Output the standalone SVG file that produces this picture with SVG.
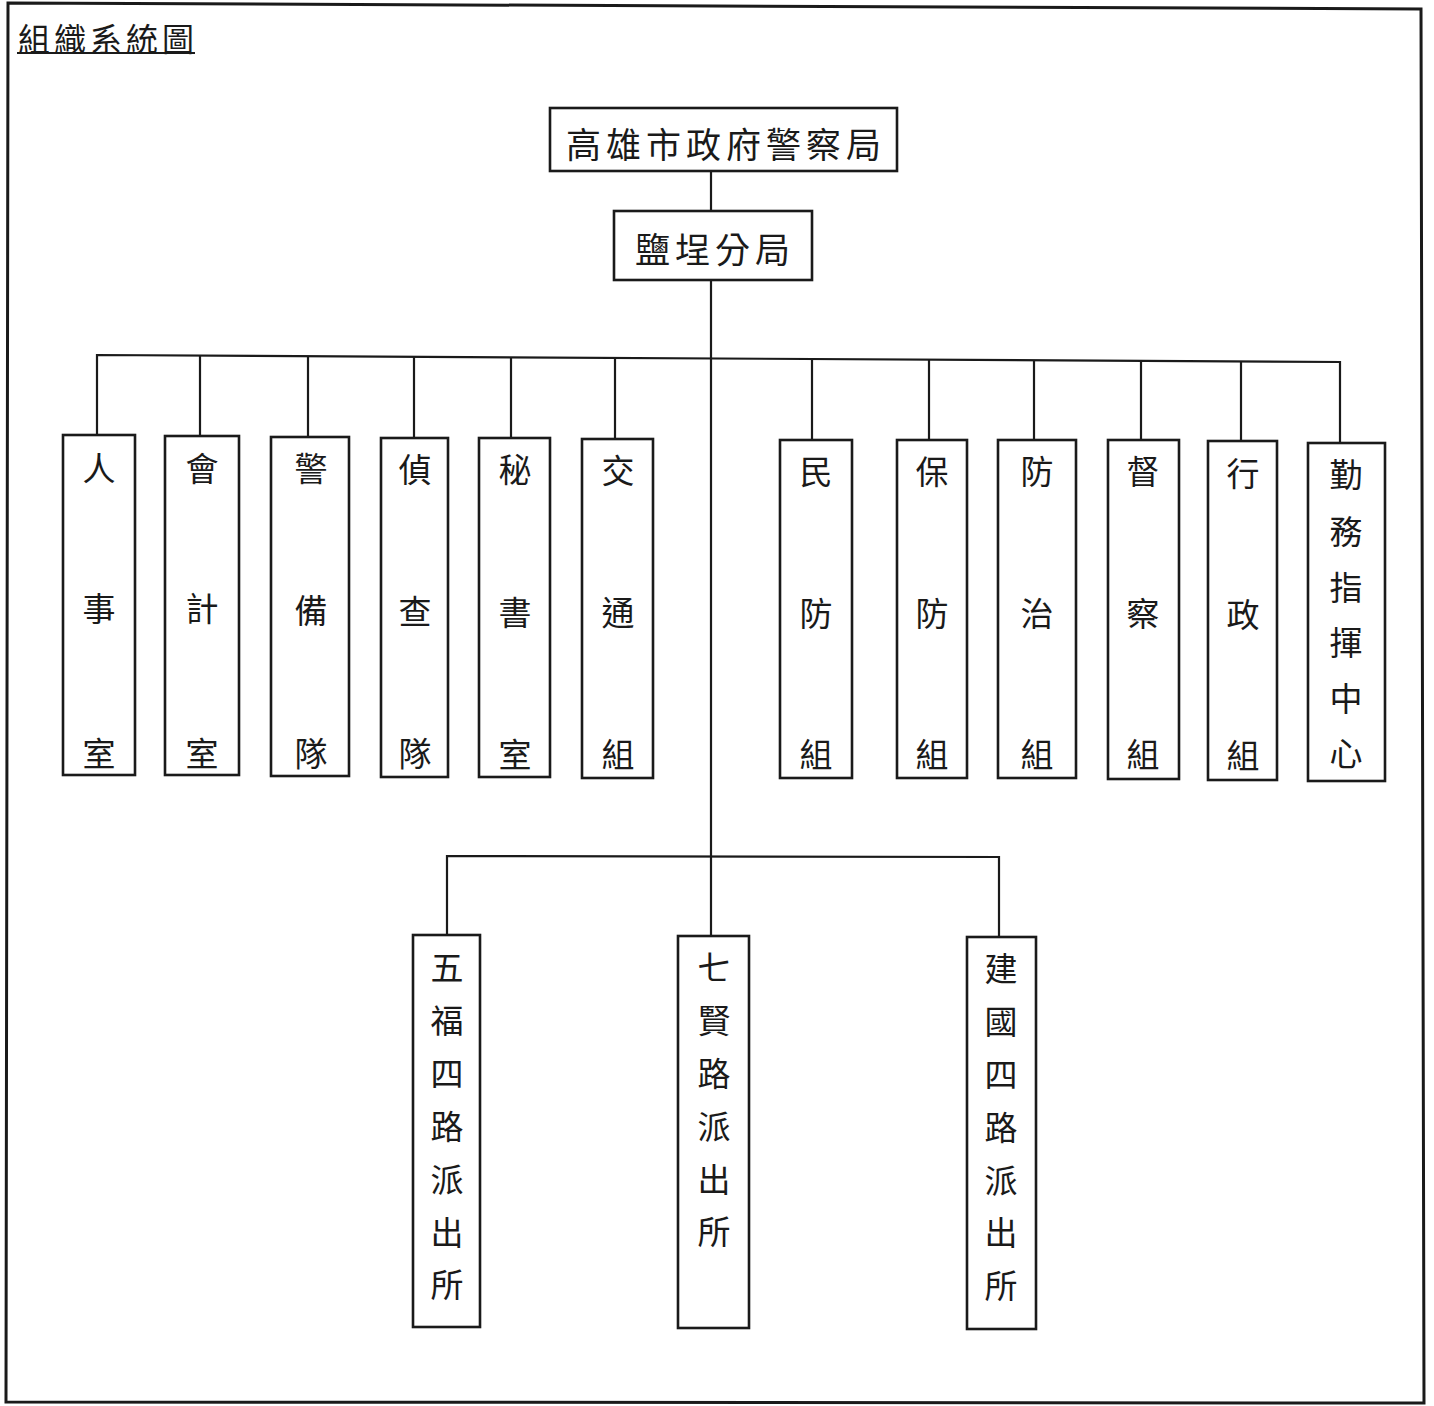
<svg xmlns="http://www.w3.org/2000/svg" width="1434" height="1406" viewBox="0 0 1434 1406">
<style>
.frame{fill:none;stroke:#1a1a1a;stroke-width:3}
.box{fill:#fff;stroke:#1a1a1a;stroke-width:2.6}
.ln{fill:none;stroke:#1a1a1a;stroke-width:2.2}
text{font-family:"Noto Sans CJK TC","Noto Sans CJK SC",sans-serif;fill:#1a1a1a;text-anchor:middle;dominant-baseline:central}
.c{font-size:33px}
.big{font-size:35px;letter-spacing:5px}
.title{font-size:32px;letter-spacing:4px;text-anchor:start}
</style>
<rect width="1434" height="1406" fill="#fff"/>
<polygon class="frame" points="8,3 1421,9 1424,1403 6,1402"/>
<g id="title">
<text class="title" x="18" y="37">組織系統圖</text>
<line class="ln" x1="17" y1="53" x2="195" y2="53" stroke-width="2"/>
</g>
<g id="connectors">
<line class="ln" x1="711" y1="171" x2="711" y2="211"/>
<line class="ln" x1="711" y1="280" x2="711" y2="936"/>
<polyline class="ln" points="97,435 97,355 1340,362 1340,443"/>
<line class="ln" x1="200" y1="356" x2="200" y2="436"/>
<line class="ln" x1="308" y1="356" x2="308" y2="437"/>
<line class="ln" x1="414" y1="357" x2="414" y2="438"/>
<line class="ln" x1="511" y1="357" x2="511" y2="438"/>
<line class="ln" x1="615" y1="358" x2="615" y2="439"/>
<line class="ln" x1="812" y1="359" x2="812" y2="440"/>
<line class="ln" x1="929" y1="360" x2="929" y2="440"/>
<line class="ln" x1="1034" y1="360" x2="1034" y2="440"/>
<line class="ln" x1="1141" y1="361" x2="1141" y2="440"/>
<line class="ln" x1="1241" y1="361" x2="1241" y2="441"/>
<polyline class="ln" points="447,935 447,856 999,857 999,937"/>
</g>
<g id="n-hq"><rect class="box" x="550" y="108" width="347" height="63"/><text class="big" x="726" y="142">高雄市政府警察局</text></g>
<g id="n-branch"><rect class="box" x="614" y="211" width="198" height="69"/><text class="big" x="715" y="247">鹽埕分局</text></g>

<g id="n1"><rect class="box" x="63" y="435" width="72" height="340"/><text class="c" x="99" y="467">人</text><text class="c" x="99" y="607">事</text><text class="c" x="99" y="752">室</text></g>
<g id="n2"><rect class="box" x="165" y="436" width="74" height="339"/><text class="c" x="202" y="467">會</text><text class="c" x="202" y="607">計</text><text class="c" x="202" y="752">室</text></g>
<g id="n3"><rect class="box" x="271" y="437" width="78" height="339"/><text class="c" x="311" y="467">警</text><text class="c" x="311" y="609">備</text><text class="c" x="311" y="752">隊</text></g>
<g id="n4"><rect class="box" x="381" y="438" width="67" height="339"/><text class="c" x="415" y="468">偵</text><text class="c" x="415" y="610">查</text><text class="c" x="415" y="752">隊</text></g>
<g id="n5"><rect class="box" x="479" y="438" width="71" height="339"/><text class="c" x="515" y="468">秘</text><text class="c" x="515" y="611">書</text><text class="c" x="515" y="753">室</text></g>
<g id="n6"><rect class="box" x="582" y="439" width="71" height="339"/><text class="c" x="618" y="469">交</text><text class="c" x="618" y="611">通</text><text class="c" x="618" y="753">組</text></g>
<g id="n7"><rect class="box" x="780" y="440" width="72" height="338"/><text class="c" x="816" y="470">民</text><text class="c" x="816" y="612">防</text><text class="c" x="816" y="753">組</text></g>
<g id="n8"><rect class="box" x="897" y="440" width="70" height="338"/><text class="c" x="932" y="470">保</text><text class="c" x="932" y="612">防</text><text class="c" x="932" y="753">組</text></g>
<g id="n9"><rect class="box" x="998" y="440" width="78" height="338"/><text class="c" x="1037" y="470">防</text><text class="c" x="1037" y="612">治</text><text class="c" x="1037" y="753">組</text></g>
<g id="n10"><rect class="box" x="1108" y="440" width="71" height="339"/><text class="c" x="1143" y="470">督</text><text class="c" x="1143" y="612">察</text><text class="c" x="1143" y="753">組</text></g>
<g id="n11"><rect class="box" x="1208" y="441" width="69" height="339"/><text class="c" x="1243" y="472">行</text><text class="c" x="1243" y="613">政</text><text class="c" x="1243" y="754">組</text></g>
<g id="n12"><rect class="box" x="1308" y="443" width="77" height="338"/><text class="c" x="1346" y="473">勤</text><text class="c" x="1346" y="530">務</text><text class="c" x="1346" y="586">指</text><text class="c" x="1346" y="641">揮</text><text class="c" x="1346" y="697">中</text><text class="c" x="1346" y="752">心</text></g>

<g id="p1"><rect class="box" x="413" y="935" width="67" height="392"/><text class="c" x="447" y="966">五</text><text class="c" x="447" y="1019">福</text><text class="c" x="447" y="1072">四</text><text class="c" x="447" y="1125">路</text><text class="c" x="447" y="1178">派</text><text class="c" x="447" y="1231">出</text><text class="c" x="447" y="1283">所</text></g>
<g id="p2"><rect class="box" x="678" y="936" width="71" height="392"/><text class="c" x="714" y="966">七</text><text class="c" x="714" y="1019">賢</text><text class="c" x="714" y="1072">路</text><text class="c" x="714" y="1125">派</text><text class="c" x="714" y="1178">出</text><text class="c" x="714" y="1230">所</text></g>
<g id="p3"><rect class="box" x="967" y="937" width="69" height="392"/><text class="c" x="1001" y="967">建</text><text class="c" x="1001" y="1020">國</text><text class="c" x="1001" y="1073">四</text><text class="c" x="1001" y="1126">路</text><text class="c" x="1001" y="1179">派</text><text class="c" x="1001" y="1231">出</text><text class="c" x="1001" y="1284">所</text></g>
</svg>
